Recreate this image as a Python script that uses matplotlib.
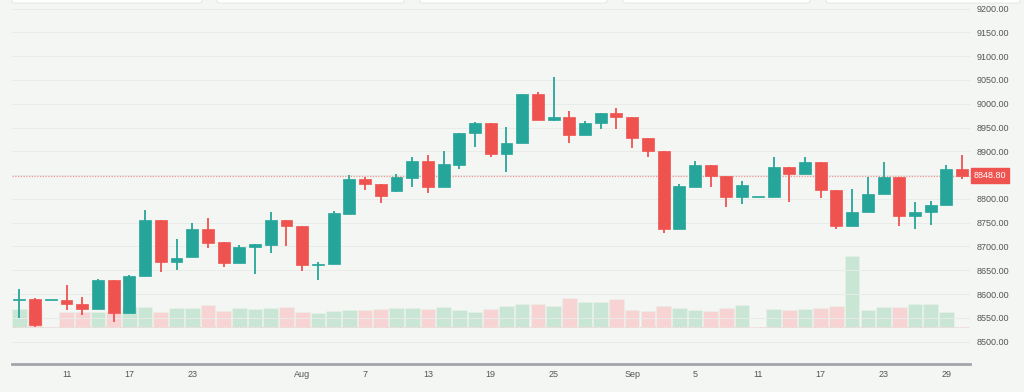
import matplotlib
matplotlib.use("Agg")
import matplotlib.pyplot as plt
from matplotlib.patches import FancyBboxPatch, Circle

# daily OHLC, Jul -> Sep
opens = [8588, 8590, 8588, 8588, 8579, 8569, 8630, 8561, 8637, 8756,
         8667, 8677, 8737, 8709, 8666, 8698, 8703, 8756, 8742, 8661,
         8663, 8768, 8841, 8831, 8817, 8843, 8880, 8826, 8871, 8938,
         8960, 8895, 8917, 9020, 8966, 8973, 8934, 8960, 8981, 8973,
         8929, 8901, 8737, 8826, 8871, 8848, 8803, 8804, 8803, 8866,
         8852, 8877, 8819, 8743, 8772, 8810, 8847, 8763, 8772, 8787,
         8862]
highs = [8610, 8591, 8588, 8618, 8593, 8632, 8630, 8640, 8776, 8756,
         8715, 8750, 8759, 8709, 8704, 8705, 8773, 8756, 8742, 8667,
         8774, 8850, 8845, 8831, 8852, 8887, 8892, 8901, 8939, 8962,
         8960, 8951, 9020, 9025, 9057, 8985, 8964, 8981, 8992, 8973,
         8929, 8901, 8831, 8880, 8871, 8848, 8837, 8804, 8889, 8866,
         8889, 8877, 8819, 8821, 8847, 8877, 8847, 8794, 8796, 8872,
         8893]
lows = [8549, 8530, 8588, 8566, 8556, 8569, 8542, 8561, 8637, 8647,
        8651, 8677, 8697, 8656, 8666, 8642, 8686, 8700, 8649, 8630,
        8663, 8768, 8819, 8791, 8814, 8826, 8813, 8826, 8863, 8910,
        8887, 8857, 8917, 8966, 8964, 8917, 8934, 8947, 8947, 8906,
        8889, 8729, 8737, 8826, 8826, 8782, 8789, 8804, 8803, 8793,
        8852, 8802, 8736, 8743, 8772, 8810, 8743, 8737, 8745, 8787,
        8842]
closes = [8590, 8536, 8588, 8579, 8569, 8630, 8561, 8638, 8756, 8667,
          8676, 8737, 8707, 8666, 8698, 8705, 8756, 8742, 8661, 8663,
          8770, 8842, 8831, 8806, 8845, 8880, 8826, 8874, 8939, 8960,
          8895, 8917, 9020, 8966, 8973, 8934, 8960, 8981, 8973, 8927,
          8900, 8737, 8827, 8871, 8848, 8803, 8829, 8804, 8866, 8852,
          8877, 8818, 8743, 8773, 8810, 8847, 8763, 8773, 8788, 8862,
          8848.80]
volumes = [18.0, 17.3, 0, 15.6, 15.0, 15.6, 15.0, 20.6, 20.0, 15.0,
           19.3, 19.3, 22.3, 16.3, 19.3, 18.0, 19.3, 20.0, 15.6, 14.3,
           16.3, 17.3, 17.3, 18.3, 19.0, 19.0, 18.3, 20.0, 17.3, 15.6,
           18.3, 21.6, 23.6, 23.3, 21.0, 29.3, 25.3, 25.3, 28.0, 17.3,
           16.0, 21.6, 19.3, 17.3, 16.6, 19.6, 22.6, 0, 18.0, 17.3,
           18.0, 19.0, 21.6, 71.3, 17.3, 20.6, 20.0, 23.0, 23.0, 15.6,
           0.3]

tick_pos = [3, 7, 11, 18, 22, 26, 30, 34, 39, 43, 47, 51, 55, 59]
tick_labels = ['11', '17', '23', 'Aug', '7', '13', '19', '25',
               'Sep', '5', '11', '17', '23', '29']
price_ticks = [8500, 8550, 8600, 8650, 8700, 8750, 8800,
               8900, 8950, 9000, 9050, 9100, 9150, 9200]

UP = '#26a69a'
DOWN = '#ef5350'
UP_VOL = '#c8e6d3'
DOWN_VOL = '#f7d3d3'
BG = '#f4f6f3'
FONT = ['Liberation Sans', 'DejaVu Sans']

W, H = 1024, 392
fig = plt.figure(figsize=(W / 100, H / 100), dpi=100, facecolor=BG)
rect = [12 / W, (H - 364) / H, (970 - 12) / W, 364 / H]
ax_vol = fig.add_axes(rect)
ax = fig.add_axes(rect, sharex=ax_vol)
ax.patch.set_visible(False)
ax_vol.set_facecolor(BG)

n = len(opens)
idx = list(range(n))

# volume
vol_cols = [UP_VOL if c >= o else DOWN_VOL for o, c in zip(opens, closes)]
ax_vol.bar(idx, volumes, width=0.93, color=vol_cols, edgecolor='#e9f2ec', linewidth=0.4)
ax_vol.axhline(0, color='#f0c8c8', lw=0.6, ls=(0, (1.5, 1.5)))
ax_vol.set_ylim(-36.7, 327.3)
ax_vol.set_yticks([])
for s in ax_vol.spines.values():
    s.set_visible(False)
ax_vol.tick_params(axis='x', length=0, labelbottom=False)

# candles
cols = [UP if c >= o else DOWN for o, c in zip(opens, closes)]
ax.vlines(idx, lows, highs, colors=cols, lw=1.3, zorder=2)
bottoms = [min(o, c) for o, c in zip(opens, closes)]
heights = [max(abs(c - o), 2.0) for o, c in zip(opens, closes)]
ax.bar(idx, heights, bottom=bottoms, width=0.76, color=cols,
       edgecolor=cols, linewidth=0.5, zorder=3)

# last price line + label
last = closes[-1]
ax.axhline(last, color=DOWN, lw=0.9, ls=(0, (1, 1.2)), alpha=0.6, zorder=1)
ax.annotate(f'{last:.2f}', xy=(1.0, last), xycoords=('axes fraction', 'data'),
            xytext=(2.5, 0), textcoords='offset points', ha='left', va='center',
            color='white', fontsize=6.5, family=FONT,
            bbox=dict(boxstyle='square,pad=0.3', fc=DOWN, ec=DOWN),
            annotation_clip=False)

for p in range(8500, 9201, 50):
    ax.axhline(p, color='#e9ebe8', lw=0.7, zorder=0)

ax.set_ylim(8453, 9218)
ax.set_xlim(-0.47, 60.5)
ax.yaxis.tick_right()
ax.set_yticks(price_ticks)
ax.set_yticklabels([f'{p:.2f}' for p in price_ticks])
ax.tick_params(axis='y', length=0, pad=5, labelsize=6.5, labelcolor='#555555')
ax.set_xticks(tick_pos)
ax.set_xticklabels(tick_labels)
ax.tick_params(axis='x', length=0, pad=4, labelsize=6.5, labelcolor='#555555')
for lab in ax.get_xticklabels() + ax.get_yticklabels():
    lab.set_family(FONT)
for k in ['top', 'left', 'right']:
    ax.spines[k].set_visible(False)
ax.spines['bottom'].set_color('#a3a5ab')
ax.spines['bottom'].set_linewidth(2)

# top cards and corner button
for x0, x1 in [(12, 202), (217, 404), (420, 607), (623, 810), (826, 1020)]:
    fig.patches.append(FancyBboxPatch((x0 / W, 1 - 3 / H), (x1 - x0) / W, 20 / H,
                                      boxstyle='round,pad=0,rounding_size=0.004',
                                      transform=fig.transFigure, fc='white',
                                      ec='#e2e4e2', lw=0.6))
fig.patches.append(Circle((1012 / W, 1 - 402 / H), 19 / W, transform=fig.transFigure,
                          fc='#2e6b2e', ec='none'))

fig.savefig('out.png', dpi=100, facecolor=BG)
